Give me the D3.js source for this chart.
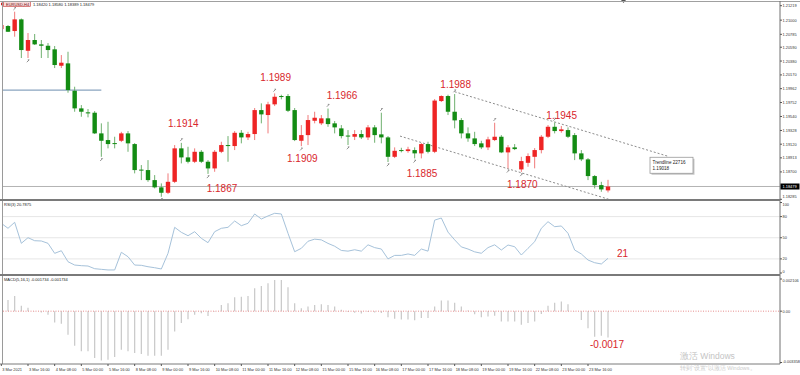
<!DOCTYPE html>
<html>
<head>
<meta charset="utf-8">
<script src="https://cdnjs.cloudflare.com/ajax/libs/d3/7.8.5/d3.min.js"></script>
<style>
  body { margin: 0; background: #fff; }
  svg { display: block; }
  text { font-family: "Liberation Sans", Arial, sans-serif; }
</style>
</head>
<body>
<div id="chart"></div>
<script>
// EURUSD H4, bar 0 = 3 Mar 2021 00:00
var opens = [1.20865,1.20911,1.20835,1.21012,1.20536,1.20699,1.20633,1.20612,1.20558,1.20309,
  1.20345,1.19930,1.19663,1.19603,1.19597,1.19284,1.19183,1.19137,1.19172,1.19284,
  1.19122,1.18735,1.18728,1.18576,1.18466,1.18384,1.18550,1.19057,1.18920,1.18854,
  1.19005,1.18854,1.18753,1.19005,1.19107,1.19092,1.19293,1.19223,1.19274,1.19637,
  1.19562,1.19724,1.19850,1.19850,1.19637,1.19172,1.19258,1.19475,1.19436,1.19512,
  1.19436,1.19360,1.19251,1.19233,1.19274,1.19223,1.19375,1.19269,1.19223,1.18929,
  1.19031,1.19016,1.19031,1.18981,1.19122,1.19005,1.19774,1.19850,1.19612,1.19486,
  1.19284,1.19208,1.19133,1.19072,1.19183,1.19233,1.18996,1.19072,1.18738,1.18838,
  1.18929,1.19031,1.19233,1.19384,1.19319,1.19334,1.19258,1.18981,1.18890,1.18637,
  1.18500,1.18420]
var highs = [1.20956,1.20926,1.21128,1.21025,1.20805,1.20790,1.20699,1.20653,1.20608,1.20471,
  1.20521,1.19991,1.19713,1.19653,1.19622,1.19436,1.19460,1.19233,1.19308,1.19319,
  1.19137,1.18804,1.18879,1.18652,1.18526,1.18678,1.19107,1.19140,1.19081,1.19057,
  1.19031,1.18879,1.19031,1.19157,1.19243,1.19319,1.19334,1.19308,1.19668,1.19739,
  1.19763,1.19890,1.19870,1.19880,1.19668,1.19410,1.19562,1.19612,1.19562,1.19660,
  1.19471,1.19410,1.19334,1.19334,1.19334,1.19410,1.19410,1.19597,1.19243,1.19072,
  1.19066,1.19081,1.19072,1.19137,1.19157,1.19804,1.19860,1.19870,1.19880,1.19516,
  1.19375,1.19308,1.19172,1.19233,1.19445,1.19258,1.19107,1.19122,1.18929,1.18981,
  1.19061,1.19258,1.19410,1.19450,1.19395,1.19375,1.19289,1.19031,1.18910,1.18652,
  1.18550,1.18580]
var lows = [1.20835,1.20820,1.20749,1.20426,1.20426,1.20623,1.20426,1.20426,1.20274,1.20274,
  1.19900,1.19612,1.19536,1.19527,1.19274,1.18929,1.19057,1.19057,1.19152,1.19005,
  1.18678,1.18576,1.18550,1.18450,1.18323,1.18364,1.18531,1.18829,1.18829,1.18834,
  1.18834,1.18670,1.18702,1.18985,1.18854,1.19031,1.19133,1.19183,1.19183,1.19436,
  1.19284,1.19698,1.19800,1.19607,1.19167,1.19090,1.19107,1.19436,1.19410,1.19384,
  1.19284,1.19208,1.19107,1.19183,1.19198,1.19183,1.19142,1.19133,1.18850,1.18910,
  1.18996,1.18990,1.18905,1.18905,1.18981,1.18985,1.19759,1.19562,1.19360,1.19208,
  1.19157,1.19092,1.19046,1.19031,1.19167,1.18985,1.18754,1.19031,1.18700,1.18778,
  1.18754,1.18981,1.19213,1.19284,1.19294,1.19213,1.18879,1.18864,1.18576,1.18450,
  1.18399,1.18389]
var closes = [1.20926,1.20824,1.21012,1.20547,1.20699,1.20633,1.20612,1.20547,1.20320,1.20355,
  1.19941,1.19663,1.19612,1.19587,1.19284,1.19172,1.19122,1.19127,1.19284,1.19133,
  1.18728,1.18720,1.18576,1.18466,1.18384,1.18550,1.19057,1.18920,1.18854,1.19005,
  1.18854,1.18753,1.19005,1.19107,1.19096,1.19293,1.19223,1.19274,1.19637,1.19572,
  1.19724,1.19839,1.19839,1.19627,1.19183,1.19258,1.19486,1.19521,1.19512,1.19425,
  1.19375,1.19243,1.19236,1.19274,1.19223,1.19375,1.19258,1.19223,1.18929,1.19020,
  1.19023,1.19042,1.18981,1.19122,1.19005,1.19781,1.19850,1.19612,1.19481,1.19284,
  1.19208,1.19122,1.19072,1.19193,1.19233,1.18996,1.19072,1.19046,1.18864,1.18940,
  1.19031,1.19233,1.19384,1.19319,1.19345,1.19233,1.18981,1.18890,1.18637,1.18500,
  1.18435,1.18479]

var rsiValues = [70.5,63.4,71.9,42.1,50.1,45.8,45.4,42.1,27.9,31.6,
  16.0,11.3,10.4,9.9,6.1,5.2,4.3,4.3,29.4,23.1,
  11.3,10.9,8.9,7.5,5.7,27.9,64.8,57.7,52.9,58.6,
  49.2,43.0,58.6,63.4,64.8,73.8,67.1,70.5,83.7,76.6,
  80.9,84.7,83.7,56.3,30.2,35,45,48,47,42,
  38,32,31,33,31,40,36,34,20,25,
  25,27,25,34,31,75,78,58,47,37,
  34,30,28,36,40,32.6,39.7,37.3,25.5,35,
  44.4,63.4,72.8,65.7,66.7,56.3,32.6,27,18.4,14.6,
  12.8,20.8]

var macdValues = [0.00063,0.00074,0.00100,0.00035,0.00023,0.00002,-0.00009,-0.00024,-0.00074,-0.00083,
  -0.00154,-0.00226,-0.00263,-0.00263,-0.00306,-0.00322,-0.00317,-0.00300,-0.00252,-0.00263,
  -0.00274,-0.00280,-0.00291,-0.00291,-0.00291,-0.00252,-0.00133,-0.00078,-0.00052,-0.00024,
  -0.00013,-0.00031,-0.00003,0.00041,0.00052,0.00091,0.00095,0.00100,0.00150,0.00165,
  0.00183,0.00204,0.00204,0.00156,0.00052,0.00020,0.00030,0.00040,0.00045,0.00040,
  0.00030,0.00010,-0.00005,-0.00010,-0.00015,-0.00005,-0.00008,-0.00012,-0.00040,-0.00050,
  -0.00055,-0.00055,-0.00060,-0.00045,-0.00045,0.00030,0.00070,0.00070,0.00055,0.00030,
  0.00005,-0.00020,-0.00040,-0.00035,-0.00030,-0.00068,-0.00068,-0.00068,-0.00089,-0.00078,
  -0.00068,-0.00018,0.00035,0.00056,0.00063,0.00046,-0.00002,-0.00057,-0.00111,-0.00167,
  -0.00160,-0.00173]

var priceTicks = ["1.21219","1.21000","1.20785","1.20590","1.20380","1.20170","1.19962","1.19752",
  "1.19540","1.19328","1.19120","1.18913","1.18700","1.18285"]
var rsiTicks = [100, 80, 50, 20, 0]
var rsiLevels = [80, 50, 20]
var macdTicks = ["0.002106", "0.00", "-0.003358"]
// one label every 4 bars
var timeLabels = ["3 Mar 2021","3 Mar 16:00","4 Mar 08:00","5 Mar 00:00","5 Mar 16:00","8 Mar 08:00",
  "9 Mar 00:00","9 Mar 16:00","10 Mar 08:00","11 Mar 00:00","11 Mar 16:00","12 Mar 08:00",
  "15 Mar 00:00","15 Mar 16:00","16 Mar 08:00","17 Mar 00:00","17 Mar 16:00","18 Mar 08:00",
  "19 Mar 00:00","19 Mar 16:00","22 Mar 08:00","23 Mar 00:00","23 Mar 16:00"]

// swing labels: text, bar, high/low
var swingText = ["1.1914","1.1867","1.1989","1.1909","1.1966","1.1885","1.1988","1.1870","1.1945"]
var swingBar  = [27, 31, 41, 45, 49, 58, 68, 78, 83]
var swingSide = ["high","low","high","low","high","low","high","low","high"]

// little fractal arrows
var fractalBar  = [2, 4, 15, 24, 27, 31, 41, 45, 49, 52, 57, 58, 62, 68, 74, 76, 78, 83]
var fractalSide = ["high","low","low","low","high","low","high","low","high","low","high","low","low","high","high","low","low","high"]

var currentPrice = 1.18479
var hLevel = 1.19941
// channel lines [bar, price]
var upperLine = [[68, 1.19915], [100, 1.18937]]
var lowerLine = [[59.8, 1.19243], [92.6, 1.18240]]

var W = 800, H = 375
var plotL = 3, plotR = 780
var mainTop = 2, mainBot = 199
var rsiTop = 201, rsiBot = 274
var macdTop = 276, macdBot = 364

var svg = d3.select("#chart").append("svg").attr("width", W).attr("height", H)

var x = d3.scaleLinear().domain([4, 88]).range([28, 588])
var y = d3.scaleLinear().domain([1.18285, 1.21219]).range([199.3, 5.7])
var yR = d3.scaleLinear().domain([0, 100]).range([273, 202.5])
var yM = d3.scaleLinear().domain([-0.003358, 0.002106]).range([362.5, 279])

var bars = d3.range(opens.length)
var green = "#138c13", red = "#ee2424"

var defs = svg.append("defs")
defs.append("clipPath").attr("id", "clipMain").append("rect")
  .attr("x", plotL).attr("y", mainTop).attr("width", plotR - plotL).attr("height", mainBot - mainTop)
defs.append("clipPath").attr("id", "clipRsi").append("rect")
  .attr("x", plotL).attr("y", rsiTop).attr("width", plotR - plotL).attr("height", rsiBot - rsiTop)
defs.append("clipPath").attr("id", "clipMacd").append("rect")
  .attr("x", plotL).attr("y", macdTop).attr("width", plotR - plotL).attr("height", macdBot - macdTop)

// ---------- main panel ----------
var main = svg.append("g").attr("clip-path", "url(#clipMain)")

main.append("line")
  .attr("x1", plotL).attr("x2", x(15)).attr("y1", y(hLevel)).attr("y2", y(hLevel))
  .attr("stroke", "#8aa4bf").attr("stroke-width", 1.2)

main.append("line")
  .attr("x1", plotL).attr("x2", plotR).attr("y1", y(currentPrice)).attr("y2", y(currentPrice))
  .attr("stroke", "#b4b4b4").attr("stroke-width", 1)

var chan = d3.line().x(d => x(d[0])).y(d => y(d[1]))
;[upperLine, lowerLine].forEach(function (l) {
  main.append("path").attr("d", chan(l))
    .attr("fill", "none").attr("stroke", "#8c8c8c").attr("stroke-width", 1)
    .attr("stroke-dasharray", "2,2")
})

var bw = 4.4
var candle = main.selectAll("g.candle").data(bars).enter().append("g")
candle.append("line")
  .attr("x1", i => x(i)).attr("x2", i => x(i))
  .attr("y1", i => y(highs[i])).attr("y2", i => y(lows[i]))
  .attr("stroke", i => closes[i] > opens[i] ? "#f07a7a" : "#6fb06f").attr("stroke-width", 1)
candle.append("rect")
  .attr("x", i => x(i) - bw / 2).attr("width", bw)
  .attr("y", i => y(Math.max(opens[i], closes[i])))
  .attr("height", i => Math.max(1, Math.abs(y(opens[i]) - y(closes[i]))))
  .attr("fill", i => closes[i] > opens[i] ? red : green)

// fractal marks
fractalBar.forEach(function (b, k) {
  var up = fractalSide[k] == "high"
  var yy = up ? y(highs[b]) - 3 : y(lows[b]) + 3
  main.append("path")
    .attr("d", "M" + (x(b) - 1.2) + "," + (yy + 1.2) + "L" + (x(b) + 1.2) + "," + (yy - 1.2)
      + "M" + (x(b) - 0.2) + "," + (yy - 1.2) + "L" + (x(b) + 1.2) + "," + (yy - 1.2))
    .attr("stroke", "#666").attr("stroke-width", 0.7).attr("fill", "none")
})

// swing labels
var swingOffset = { "1.1914": [2, -19], "1.1867": [14, 15], "1.1989": [1, -16], "1.1909": [1, 12],
  "1.1966": [14, -13], "1.1885": [34, 11], "1.1988": [1, -10], "1.1870": [1, 13], "1.1945": [7, -7] }
swingText.forEach(function (t, k) {
  var b = swingBar[k]
  var o = swingOffset[t]
  var base = swingSide[k] == "high" ? y(highs[b]) : y(lows[b])
  svg.append("text").attr("x", x(b) + o[0]).attr("y", base + o[1])
    .attr("text-anchor", "middle").attr("dominant-baseline", "central")
    .attr("font-size", 10).attr("fill", "#d8262c").text(t)
})

// tooltip at end of trendline
var tipX = x(upperLine[1][0]) - 18, tipY = y(upperLine[1][1]) + 1
svg.append("rect").attr("x", tipX + 1.5).attr("y", tipY + 1.5).attr("width", 43).attr("height", 16).attr("fill", "#c8c8c8")
svg.append("rect").attr("x", tipX).attr("y", tipY).attr("width", 43).attr("height", 16)
  .attr("fill", "#fff").attr("stroke", "#9a9a9a").attr("stroke-width", 0.8)
svg.append("text").attr("x", tipX + 2.5).attr("y", tipY + 6.5).attr("font-size", 4.6).attr("fill", "#222").text("Trendline 22716")
svg.append("text").attr("x", tipX + 2.5).attr("y", tipY + 13).attr("font-size", 4.6).attr("fill", "#222").text("1.19018")

// header
svg.append("rect").attr("x", 3.5).attr("y", 1.5).attr("width", 27).attr("height", 5)
  .attr("fill", "#f6dada").attr("stroke", "#c83a3a").attr("stroke-width", 0.6)
svg.append("path").attr("d", "M1,2.5L4,4L1,5.5Z").attr("fill", "#d02020")
svg.append("text").attr("x", 6).attr("y", 5.5).attr("font-size", 4).attr("fill", "#7a1010").text("EURUSD,H4")
svg.append("text").attr("x", 33).attr("y", 5.5).attr("font-size", 4).attr("fill", "#222")
  .text("1.18420 1.18580 1.18389 1.18479")
svg.append("path").attr("d", "M621,0L626,0L623.5,3Z").attr("fill", "#555")

// ---------- RSI panel ----------
var rsiG = svg.append("g").attr("clip-path", "url(#clipRsi)")
rsiLevels.forEach(function (v) {
  rsiG.append("line").attr("x1", plotL).attr("x2", plotR).attr("y1", yR(v)).attr("y2", yR(v))
    .attr("stroke", "#e6e6e6").attr("stroke-width", 1)
})
rsiG.append("path").datum(bars)
  .attr("d", d3.line().x(i => x(i)).y(i => yR(rsiValues[i])))
  .attr("fill", "none").attr("stroke", "#a6c2da").attr("stroke-width", 1)
svg.append("text").attr("x", 4).attr("y", 206).attr("font-size", 4).attr("fill", "#222").text("RSI(3) 20.7875")
svg.append("text").attr("x", x(91) + 9).attr("y", yR(rsiValues[91]) - 5)
  .attr("dominant-baseline", "central").attr("font-size", 10).attr("fill", "#d8262c").text("21")

// ---------- MACD panel ----------
var macdG = svg.append("g").attr("clip-path", "url(#clipMacd)")
macdG.selectAll("line.bar").data(bars).enter().append("line")
  .attr("x1", i => x(i)).attr("x2", i => x(i))
  .attr("y1", yM(0)).attr("y2", i => yM(macdValues[i]))
  .attr("stroke", "#c8c8c8").attr("stroke-width", 1.2)
macdG.append("line").attr("x1", plotL).attr("x2", plotR).attr("y1", yM(0)).attr("y2", yM(0))
  .attr("stroke", "#e07070").attr("stroke-width", 0.8).attr("stroke-dasharray", "1,1.5")
svg.append("text").attr("x", 4).attr("y", 281).attr("font-size", 4).attr("fill", "#222")
  .text("MACD(5,16,1) -0.001734 -0.001734")
svg.append("text").attr("x", x(91) - 1).attr("y", yM(macdValues[91]) + 7)
  .attr("text-anchor", "middle").attr("dominant-baseline", "central")
  .attr("font-size", 10).attr("fill", "#d8262c").text("-0.0017")

// ---------- frames ----------
svg.append("line").attr("x1", 0).attr("x2", W).attr("y1", 1.5).attr("y2", 1.5).attr("stroke", "#a0a0a0")
svg.append("line").attr("x1", 2.5).attr("x2", 2.5).attr("y1", 1).attr("y2", macdBot).attr("stroke", "#9a9a9a")
svg.append("line").attr("x1", plotR).attr("x2", plotR).attr("y1", 1).attr("y2", macdBot).attr("stroke", "#707070")
;[200, 275].forEach(function (v) {
  svg.append("line").attr("x1", 0).attr("x2", plotR).attr("y1", v).attr("y2", v)
    .attr("stroke", "#7a7a7a").attr("stroke-width", 1.8)
})
svg.append("line").attr("x1", 0).attr("x2", plotR).attr("y1", macdBot).attr("y2", macdBot).attr("stroke", "#7a7a7a")

// right axis labels, kept inside their own pane
var axisG = svg.append("g").attr("font-size", 3.9).attr("fill", "#333")
function axisLabel(t, yy, lo, hi) {
  axisG.append("line").attr("x1", plotR).attr("x2", plotR + 2).attr("y1", yy).attr("y2", yy).attr("stroke", "#555")
  axisG.append("text").attr("x", plotR + 2.5).attr("y", Math.min(hi, Math.max(lo, yy)))
    .attr("dominant-baseline", "central").text(t)
}
priceTicks.forEach(t => axisLabel(t, y(+t), 4, 196.5))
svg.append("rect").attr("x", plotR + 0.5).attr("y", y(currentPrice) - 3).attr("width", 19).attr("height", 6).attr("fill", "#000")
svg.append("text").attr("x", plotR + 2.5).attr("y", y(currentPrice)).attr("dominant-baseline", "central")
  .attr("font-size", 3.9).attr("fill", "#fff").text(currentPrice.toFixed(5))
rsiTicks.forEach(t => axisLabel(t, yR(t), 204.5, 271.5))
macdTicks.forEach(t => axisLabel(t, yM(+t), 280, 361))

// bottom time axis
timeLabels.forEach(function (t, k) {
  var xx = x(k * 4)
  axisG.append("line").attr("x1", xx).attr("x2", xx).attr("y1", macdBot).attr("y2", macdBot + 2).attr("stroke", "#555")
  axisG.append("text").attr("x", xx + 1).attr("y", 369.5).attr("dominant-baseline", "central").text(t)
})

// windows watermark
svg.append("text").attr("x", 680).attr("y", 359).attr("font-family", "Noto Sans CJK SC")
  .attr("font-size", 8.5).attr("fill", "#c4c4c4").text("激活 Windows")
svg.append("text").attr("x", 680).attr("y", 369.5).attr("font-family", "Noto Sans CJK SC")
  .attr("font-size", 5.5).attr("fill", "#cccccc").text("转到“设置”以激活 Windows。")
</script>
</body>
</html>
